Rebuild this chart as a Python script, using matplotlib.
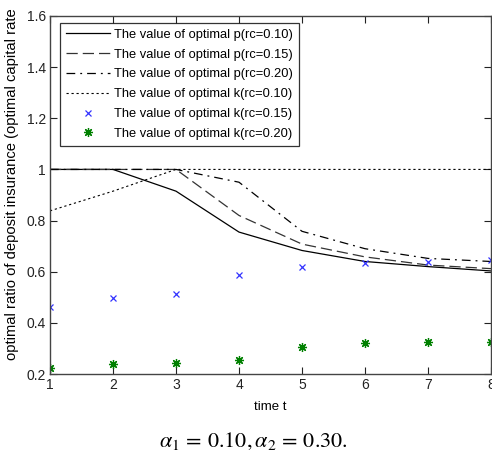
import matplotlib
matplotlib.use("Agg")
import matplotlib.pyplot as plt

# time periods
t = [1, 2, 3, 4, 5, 6, 7, 8]

# optimal ratio of deposit insurance for each capital rate
p_rc10 = [1.0, 1.0, 0.915, 0.755, 0.683, 0.640, 0.620, 0.603]
p_rc15 = [1.0, 1.0, 1.0, 0.820, 0.708, 0.658, 0.626, 0.612]
p_rc20 = [1.0, 1.0, 1.0, 0.950, 0.758, 0.690, 0.652, 0.640]

# optimal capital rate
k_rc10 = [0.838, 0.915, 1.0, 1.0, 1.0, 1.0, 1.0, 1.0]
k_rc15 = [0.463, 0.496, 0.513, 0.586, 0.620, 0.636, 0.639, 0.646]
k_rc20 = [0.222, 0.239, 0.242, 0.256, 0.307, 0.320, 0.326, 0.326]

labels = [
    "The value of optimal p(rc=0.10)",
    "The value of optimal p(rc=0.15)",
    "The value of optimal p(rc=0.20)",
    "The value of optimal k(rc=0.10)",
    "The value of optimal k(rc=0.15)",
    "The value of optimal k(rc=0.20)",
]

plt.rcParams["font.family"] = ["Liberation Sans", "DejaVu Sans"]

fig = plt.figure(figsize=(4.92, 4.57), dpi=100)
ax = fig.add_axes([50 / 492, 1 - 374 / 457, 441 / 492, 358 / 457])

ax.plot(t, p_rc10, color="black", lw=0.9, ls="-", label=labels[0])
ax.plot(t, p_rc15, color="#333333", lw=0.9, ls=(0, (9, 4)), label=labels[1])
ax.plot(t, p_rc20, color="black", lw=0.9, ls=(0, (7, 4, 1.5, 4)), label=labels[2])
ax.plot(t, k_rc10, color="black", lw=0.8, ls=(0, (2, 2.5)), label=labels[3])
ax.plot(t, k_rc15, ls="none", marker="x", ms=4.5, mew=0.9, color="#3333ff", label=labels[4])
ax.plot(t, k_rc20, ls="none", marker=(8, 2, 0), ms=6.5, mew=0.9, color="#008000", label=labels[5])

ax.set_xlim(1, 8)
ax.set_ylim(0.2, 1.6)
ax.set_xticks(t)
ax.set_yticks([0.2, 0.4, 0.6, 0.8, 1.0, 1.2, 1.4, 1.6])
ax.set_yticklabels(["0.2", "0.4", "0.6", "0.8", "1", "1.2", "1.4", "1.6"])
ax.tick_params(direction="in", length=5, width=0.8, top=True, right=True,
               labelsize=10, pad=3, colors="#222222")
for s in ax.spines.values():
    s.set_color("#444444")
    s.set_linewidth(1.0)

ax.set_xlabel("time t", fontsize=9.5, labelpad=6)

fig.text(12 / 492, 1 - 360 / 457, "optimal ratio of deposit insurance (optimal capital rate",
         rotation=90, ha="center", va="bottom", fontsize=10.6)

leg = ax.legend(loc="upper left", bbox_to_anchor=(60 / 492, 1 - 23 / 457),
                bbox_transform=fig.transFigure, fontsize=9.3, frameon=True,
                fancybox=False, handlelength=3.4, handletextpad=0.35,
                labelspacing=0.6, borderpad=0.45, borderaxespad=0)
leg.get_frame().set_edgecolor("black")
leg.get_frame().set_linewidth(0.9)

fig.text(253 / 492, 1 - 441 / 457, r"$\alpha_1\,=\,0.10,\alpha_2\,=\,0.30.$",
         ha="center", va="center", fontsize=16, math_fontfamily="stix")

fig.savefig("out.png", dpi=100)
